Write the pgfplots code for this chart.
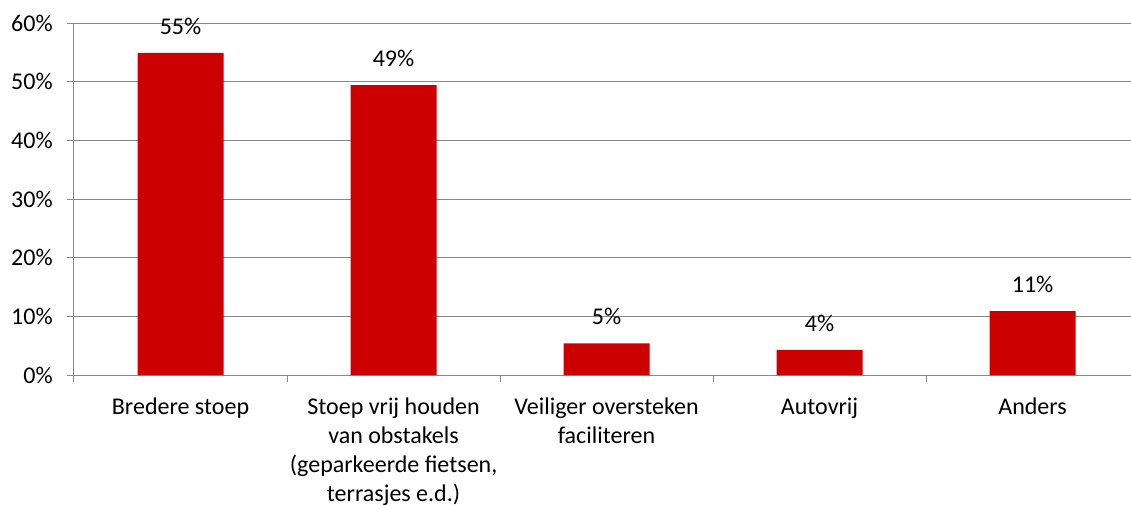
\documentclass[border=0pt]{standalone}
\usepackage{fontspec}
\setmainfont{Carlito}
\usepackage{pgfplots}
\pgfplotsset{compat=1.18}
\definecolor{barred}{HTML}{CC0000}
\definecolor{gridgray}{HTML}{888888}
\newcommand\lbl{\fontsize{18}{21.75}\selectfont}
\begin{document}
\begin{tikzpicture}
\begin{axis}[
  at={(0,0)}, anchor=south west,
  scale only axis, width=792.75pt, height=264pt,
  xmin=-0.5, xmax=4.462, ymin=0, ymax=60,
  axis x line*=bottom, axis y line*=left,
  axis line style={gridgray, line width=0.75pt},
  ybar, bar width=64.5pt,
  xtick={0,1,2,3,4},
  xticklabels={{\strut Bredere stoep},
    {\strut Stoep vrij houden\\\strut van obstakels\\\strut (geparkeerde fietsen,\\\strut terrasjes e.d.)},
    {\strut Veiliger oversteken\\\strut faciliteren},
    {\strut Autovrij},
    {\strut Anders}},
  minor xtick={-0.5,0.5,1.5,2.5,3.5},
  every major x tick/.append style={draw=none},
  every minor x tick/.append style={gridgray, line width=0.75pt},
  minor tick length=5.25pt,
  ytick={0,10,...,60},
  major tick length=5.25pt,
  tick align=outside,
  every major y tick/.append style={gridgray, line width=0.75pt},
  ymajorgrids,
  major grid style={gridgray, line width=0.75pt},
  /pgf/number format/assume math mode=true,
  yticklabel={\pgfmathprintnumber{\tick}\%},
  ticklabel style={font=\lbl},
  xticklabel style={align=center, anchor=north, inner sep=0pt, yshift=-8.8pt},
  yticklabel style={anchor=east, inner sep=0pt, xshift=-10.5pt},
  nodes near coords={\pgfmathprintnumber[fixed,precision=0]{\pgfplotspointmeta}\%},
  every node near coord/.append style={font=\lbl, text=black, anchor=south, inner sep=0pt, yshift=13.5pt},
]
\addplot[fill=barred, draw=none] coordinates {
  (0,54.9) (1,49.4) (2,5.4) (3,4.3) (4,10.9)
};
\end{axis}
\pgfresetboundingbox
\useasboundingbox (-55.5pt,-96.75pt) rectangle (792.75pt,281.25pt);
\end{tikzpicture}
\end{document}
